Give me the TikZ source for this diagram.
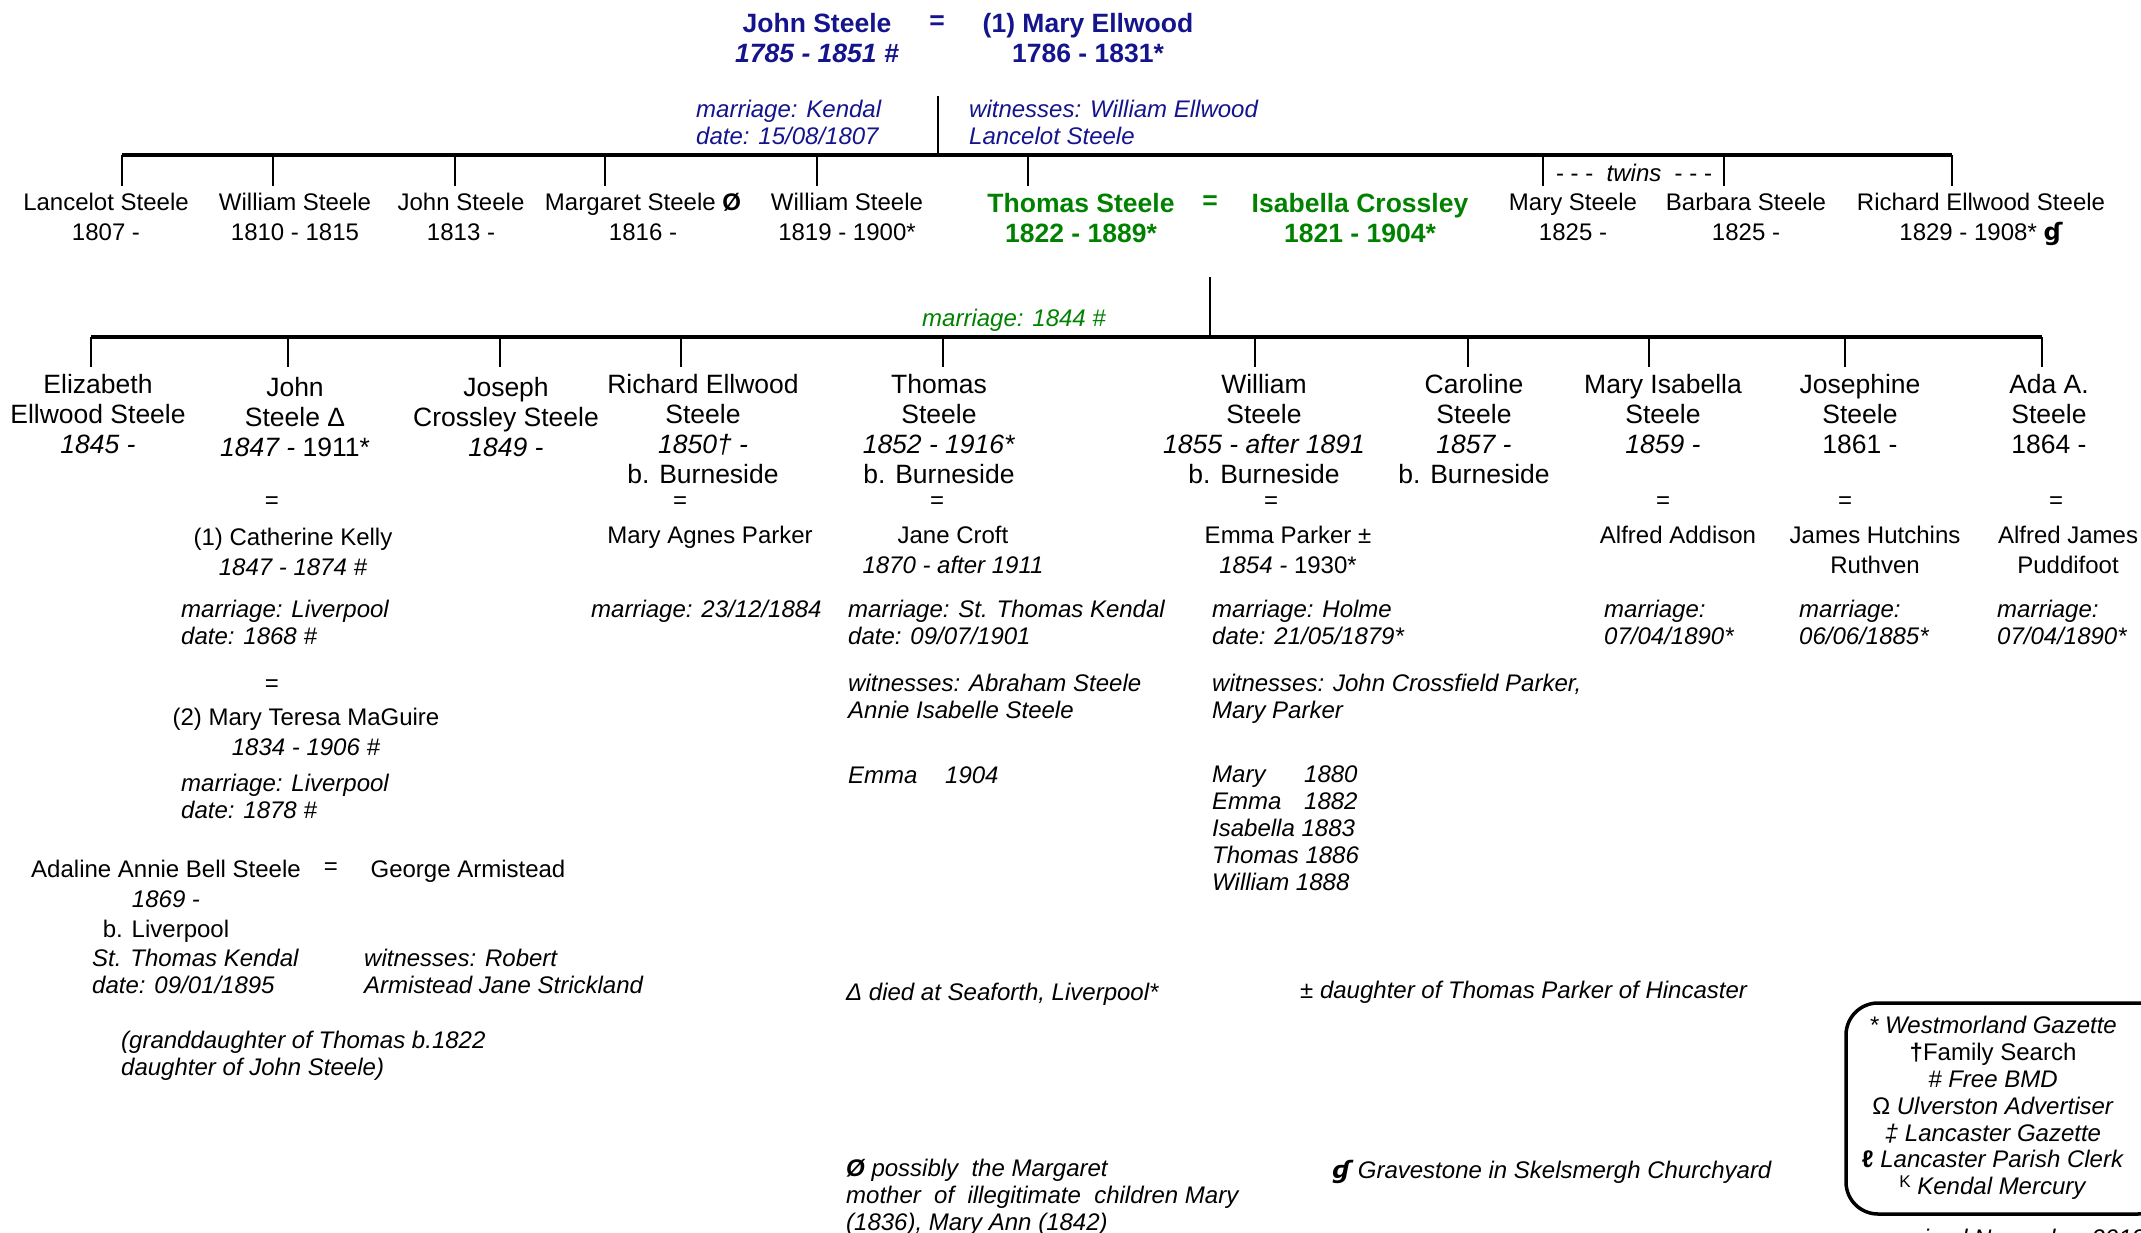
\documentclass[tikz,border=0pt]{standalone}
\usepackage{fontspec}
\setmainfont{Liberation Sans}
\newfontfamily\symfont{DejaVu Sans}
\definecolor{titleblue}{RGB}{20,20,140}
\definecolor{treegreen}{RGB}{0,130,0}
\tikzset{
  person/.style={font=\fontsize{24}{30}\selectfont, align=center, inner sep=0pt, anchor=north},
  child/.style={person, font=\fontsize{26.5}{29.7}\selectfont},
  couple/.style={person, font=\bfseries\fontsize{26.5}{29.5}\selectfont},
  note/.style={font=\itshape\fontsize{24}{26.5}\selectfont, align=left, inner sep=0pt, anchor=north west},
  eqsign/.style={font=\fontsize{24}{30}\selectfont, inner sep=0pt},
  bar/.style={line width=4pt},
  tick/.style={line width=2.6pt},
}
\begin{document}
\begin{tikzpicture}[x=1pt,y=-1pt]
    \useasboundingbox (0,0) rectangle (2141,1233);

    % Parents
    \node[couple, text=titleblue] (john) at (817,13.5) {John Steele\\\textit{1785 - 1851 \#}};
    \node[eqsign, font=\bfseries\fontsize{26.5}{29.5}\selectfont, text=titleblue] (eqtop) at (937,23) {=};
    \node[couple, text=titleblue] (mary) at (1088,13.5) {(1) Mary Ellwood\\1786 - 1831*};
    \node[note, text=titleblue] (wedtop) at (696,100) {marriage: Kendal\\date: 15/08/1807};
    \node[note, text=titleblue] (wittop) at (969,100) {witnesses: William Ellwood\\Lancelot Steele};

    % First generation lines
    \coordinate (p0) at (938,96);
    \foreach \x [count=\i] in {122,273,455,605,817,1028,1543,1724,1952} {
        \coordinate (g\i) at (\x,155);
        \coordinate (h\i) at (\x,186);
    }
    \draw[tick] (p0) -- (p0 |- g1);
    \draw[bar] (g1) -- (g9);
    \foreach \i in {1,...,9} \draw[tick] (g\i) -- (h\i);

    % First generation
    \node[person] (lancelot) at (106,193) {Lancelot Steele\\1807 -};
    \node[person] (william) at (295,193) {William Steele\\1810 - 1815};
    \node[person] (johnjr) at (461,193) {John Steele\\1813 -};
    \node[person] (margaret) at (643,193) {Margaret Steele \textbf{Ø}\\1816 -};
    \node[person] (williamb) at (847,193) {William Steele\\1819 - 1900*};
    \node[couple, text=treegreen] (thomas) at (1081,193.5) {Thomas Steele\\1822 - 1889*};
    \node[eqsign, font=\bfseries\fontsize{26.5}{29.5}\selectfont, text=treegreen] (eqmid) at (1210,203) {=};
    \node[couple, text=treegreen] (isabella) at (1360,193.5) {Isabella Crossley\\1821 - 1904*};
    \node[person] (marys) at (1573,193) {Mary Steele\\1825 -};
    \node[person] (barbara) at (1746,193) {Barbara Steele\\1825 -};
    \node[person] (richard) at (1981,193) {Richard Ellwood Steele\\1829 - 1908* {\symfont\bfseries ɠ}};
    \node[eqsign] (twins) at (1634,173) {-\ -\ -\ \ \textit{twins}\ \ -\ -\ -};

    % Second generation lines
    \coordinate (p1) at (1210,277);
    \foreach \x [count=\i] in {91,288,500,681,943,1255,1468,1649,1845,2042} {
        \coordinate (k\i) at (\x,337);
        \coordinate (l\i) at (\x,367);
    }
    \draw[tick] (p1) -- (p1 |- k1);
    \draw[bar] (k1) -- (k10);
    \foreach \i in {1,...,10} \draw[tick] (k\i) -- (l\i);
    \node[note, anchor=center, text=treegreen] (wedmid) at (1014,320) {marriage: 1844 \#};

    % Second generation
    \node[child] (elizabeth) at (98,374.5) {Elizabeth\\Ellwood Steele\\\textit{1845 -}};
    \node[child] (john2) at (295,377.5) {John\\Steele Δ\\\textit{1847 -} 1911*};
    \node[child] (joseph) at (506,377.5) {Joseph\\Crossley Steele\\\textit{1849 -}};
    \node[child] (richard2) at (703,374.5) {Richard Ellwood\\Steele\\\textit{1850† -}\\b. Burneside};
    \node[child] (thomas2) at (939,374.5) {Thomas\\Steele\\\textit{1852 - 1916*}\\b. Burneside};
    \node[child] (william2) at (1264,374.5) {William\\Steele\\\textit{1855 - after 1891}\\b. Burneside};
    \node[child] (caroline) at (1474,374.5) {Caroline\\Steele\\\textit{1857 -}\\b. Burneside};
    \node[child] (maryisa) at (1663,374.5) {Mary Isabella\\Steele\\\textit{1859 -}};
    \node[child] (josephine) at (1860,374.5) {Josephine\\Steele\\1861 -};
    \node[child] (ada) at (2049,374.5) {Ada A.\\Steele\\1864 -};

    % Spouses
    \node[eqsign] (eqjohn) at (272,503) {=};
    \node[person] (catherine) at (293,528) {(1) Catherine Kelly\\\textit{1847 - 1874 \#}};
    \node[note] (wedjohn1) at (181,600) {marriage: Liverpool\\date: 1868 \#};
    \node[eqsign] (eqjohnb) at (272,686) {=};
    \node[person] (teresa) at (306,708) {(2) Mary Teresa MaGuire\\\textit{1834 - 1906 \#}};
    \node[note] (wedjohn2) at (181,774) {marriage: Liverpool\\date: 1878 \#};
    \node[eqsign] (eqrichard) at (680,503) {=};
    \node[person] (agnes) at (710,526) {Mary Agnes Parker};
    \node[note] (wedrichard) at (591,600) {marriage: 23/12/1884};
    \node[eqsign] (eqthomas) at (937,503) {=};
    \node[person] (jane) at (953,526) {Jane Croft\\\textit{1870 - after 1911}};
    \node[note] (wedthomas) at (848,600) {marriage: St. Thomas Kendal\\date: 09/07/1901};
    \node[note] (witthomas) at (848,674) {witnesses: Abraham Steele\\Annie Isabelle Steele};
    \node[note] (kidsthomas) at (848,767) {\makebox[97pt][l]{Emma}1904};
    \node[eqsign] (eqwilliam) at (1271,503) {=};
    \node[person] (emma) at (1288,526) {Emma Parker ±\\\textit{1854 -} 1930*};
    \node[note] (wedwilliam) at (1212,600) {marriage: Holme\\date: 21/05/1879*};
    \node[note] (witwilliam) at (1212,674) {witnesses: John Crossfield Parker,\\Mary Parker};
    \node[note, font=\itshape\fontsize{24}{27}\selectfont] (kidswilliam) at (1212,766) {\makebox[92pt][l]{Mary}1880\\\makebox[92pt][l]{Emma}1882\\Isabella 1883\\Thomas 1886\\William 1888};
    \node[eqsign] (eqmaryisa) at (1663,503) {=};
    \node[person] (addison) at (1678,526) {Alfred Addison};
    \node[note] (wedmaryisa) at (1604,600) {marriage:\\07/04/1890*};
    \node[eqsign] (eqjosephine) at (1845,503) {=};
    \node[person] (ruthven) at (1875,526) {James Hutchins\\Ruthven};
    \node[note] (wedjosephine) at (1799,600) {marriage:\\06/06/1885*};
    \node[eqsign] (eqada) at (2056,503) {=};
    \node[person] (puddifoot) at (2068,526) {Alfred James\\Puddifoot};
    \node[note] (wedada) at (1997,600) {marriage:\\07/04/1890*};

    % Third generation
    \node[person] (adaline) at (166,860) {Adaline Annie Bell Steele\\\textit{1869 -}\\b. Liverpool};
    \node[eqsign] (eqadaline) at (331,869) {=};
    \node[person] (george) at (468,860) {George Armistead};
    \node[note] (wedadaline) at (92,949) {St. Thomas Kendal\\date: 09/01/1895};
    \node[note] (witadaline) at (364,949) {witnesses: Robert\\Armistead Jane Strickland};
    \node[note] (grand) at (121,1031) {(granddaughter of Thomas b.1822\\daughter of John Steele)};

    % Footnotes
    \node[note] (fndelta) at (846,983) {Δ died at Seaforth, Liverpool*};
    \node[note] (fnpm) at (1300,981) {± daughter of Thomas Parker of Hincaster};
    \node[note, font=\itshape\fontsize{24}{27}\selectfont] (fnslash) at (846,1159) {\textbf{Ø} possibly\ \ the Margaret\\mother\ \ of\ \ illegitimate\ \ children Mary\\(1836), Mary Ann (1842)};
    \node[note] (fngrave) at (1332,1160) {{\symfont\bfseries ɠ} Gravestone in Skelsmergh Churchyard};

    % Key
    \draw[line width=3.5pt, rounded corners=32pt] (1846,1003) rectangle (2170,1214);
    \node[person, anchor=center, font=\fontsize{24}{26.8}\selectfont] (key) at (1993,1108) {
        \textit{* Westmorland Gazette}\\
        \textbf{†}Family Search\\
        \textit{\# Free BMD}\\
        Ω \textit{Ulverston Advertiser}\\
        \textit{‡ Lancaster Gazette}\\
        \textbf{ℓ} \textit{Lancaster Parish Clerk}\\
        {\fontsize{17}{20}\selectfont\raisebox{7pt}{K}} \textit{Kendal Mercury}
    };
    \node[note] (revised) at (1890,1229) {revised November 2013};
\end{tikzpicture}
\end{document}
